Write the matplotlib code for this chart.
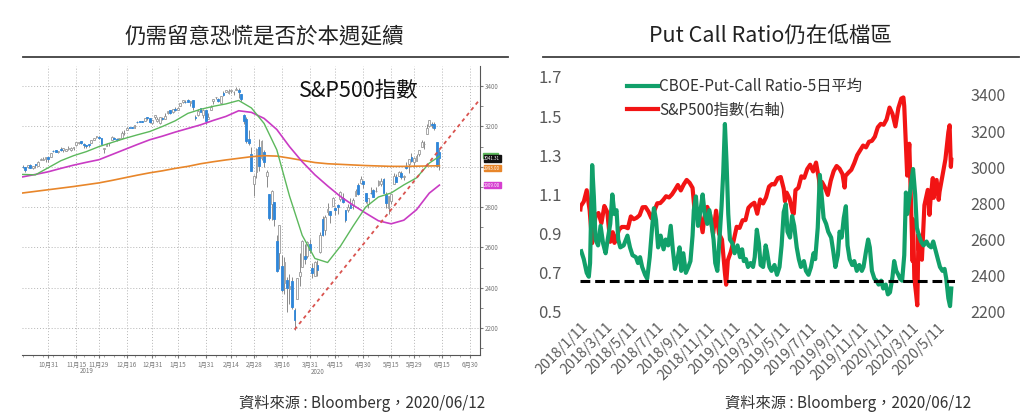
import numpy as np
import pandas as pd
import matplotlib
matplotlib.use("Agg")
import matplotlib.pyplot as plt
from matplotlib.lines import Line2D
from matplotlib.patches import Rectangle

plt.rcParams['font.family'] = ['Noto Sans CJK TC', 'DejaVu Sans']

# ---------------- left panel data: S&P500 daily candles ----------------
holidays = ['2019-11-28', '2019-12-25', '2020-01-01', '2020-01-20', '2020-02-17',
            '2020-04-10', '2020-05-25']
cal = pd.bdate_range('2019-10-17', '2020-06-30')
cal = cal[~cal.isin(pd.to_datetime(holidays))]

spx_open = [
    3000.8, 2996.8, 2996.5, 3010.7, 2994.0, 3014.8, 3003.3, 3032.1, 3035.4, 3039.7, 3046.9,
    3050.7, 3079.0, 3080.8, 3075.1, 3087.0, 3081.3, 3080.3, 3089.3, 3084.2, 3090.8, 3107.9, 3117.9, 3127.5, 3114.7, 3108.5, 3111.4, 3117.4, 3134.9, 3145.5, 3147.2,
    3143.9, 3087.4, 3103.5, 3119.2, 3134.6, 3141.9, 3135.4, 3135.8, 3141.2, 3166.7, 3183.6, 3195.4, 3195.2, 3192.3, 3223.3, 3226.1, 3225.4, 3227.2, 3247.2, 3240.1, 3215.2,
    3244.7, 3226.4, 3217.6, 3241.9, 3238.6, 3266.0, 3281.0, 3271.1, 3285.4, 3282.3, 3303.0, 3323.7, 3321.0, 3330.0, 3315.8, 3333.1, 3247.2, 3255.4, 3289.5, 3256.5, 3282.3,
    3235.7, 3280.6, 3324.9, 3344.9, 3335.5, 3318.3, 3365.9, 3370.5, 3365.9, 3378.1, 3369.0, 3380.4, 3380.5, 3360.5, 3257.6, 3238.9, 3139.9, 3062.5, 2916.9,
    2974.3, 3096.5, 3045.8, 3075.7, 2954.2, 2863.9, 2813.5, 2825.6, 2630.9, 2570.0, 2508.6, 2425.7, 2436.5, 2393.5, 2431.9, 2290.7, 2344.4, 2457.8, 2501.3, 2555.9, 2559.0, 2614.7,
    2498.1, 2458.5, 2514.9, 2578.3, 2738.7, 2685.0, 2777.0, 2782.5, 2805.1, 2795.6, 2812.6, 2842.4, 2845.6, 2784.8, 2787.9, 2810.4, 2812.6, 2854.7, 2910.0, 2918.5, 2930.9,
    2869.1, 2815.0, 2868.9, 2883.1, 2878.3, 2908.8, 2915.5, 2939.5, 2865.9, 2794.5, 2830.0, 2913.9, 2948.6, 2953.6, 2970.0, 2948.1, 3004.1, 3015.7, 3046.6, 3025.2,
    3031.0, 3064.8, 3098.9, 3111.6, 3163.8, 3199.9, 3213.3, 3213.4, 3123.5, 3071.0]
spx_high = [
    3008.3, 3000.0, 3007.3, 3014.6, 3004.8, 3016.1, 3027.4, 3044.1, 3047.9, 3050.1, 3046.9,
    3066.9, 3085.2, 3083.9, 3078.3, 3097.8, 3093.1, 3088.3, 3102.6, 3098.1, 3098.2, 3120.5, 3124.2, 3127.6, 3119.0, 3110.1, 3112.9, 3133.8, 3142.7, 3154.3, 3150.3,
    3144.3, 3095.0, 3119.4, 3119.4, 3150.6, 3148.9, 3142.1, 3144.0, 3176.3, 3182.7, 3197.7, 3198.2, 3198.5, 3205.5, 3225.6, 3227.8, 3226.4, 3240.1, 3247.9, 3240.9, 3231.7,
    3258.1, 3246.2, 3246.8, 3244.9, 3267.1, 3275.6, 3283.0, 3288.1, 3294.2, 3298.7, 3317.1, 3329.9, 3329.8, 3337.8, 3326.9, 3333.2, 3258.8, 3285.8, 3293.5, 3285.9, 3282.3,
    3268.4, 3306.9, 3337.6, 3348.0, 3341.4, 3352.3, 3375.6, 3381.5, 3385.1, 3380.7, 3375.0, 3393.5, 3389.2, 3360.8, 3259.8, 3247.0, 3182.5, 3097.1, 2959.7,
    3091.0, 3136.7, 3131.0, 3083.0, 2985.9, 2863.9, 2882.6, 2825.6, 2661.0, 2711.3, 2563.0, 2553.9, 2453.6, 2467.0, 2453.0, 2300.7, 2449.7, 2571.4, 2637.0, 2615.9, 2631.8, 2641.4,
    2522.8, 2533.2, 2538.2, 2676.9, 2756.9, 2760.8, 2818.6, 2782.5, 2851.9, 2801.9, 2815.1, 2879.2, 2869.0, 2785.5, 2815.1, 2844.9, 2842.7, 2887.7, 2921.2, 2954.9, 2930.9,
    2869.1, 2844.2, 2898.2, 2891.1, 2901.9, 2932.2, 2944.3, 2945.8, 2874.1, 2852.8, 2865.0, 2968.1, 2964.2, 2980.3, 2978.5, 2956.8, 3021.7, 3036.3, 3068.7, 3049.2,
    3062.2, 3081.1, 3130.9, 3128.9, 3211.7, 3233.1, 3222.7, 3223.3, 3123.5, 3088.4]
spx_low = [
    2991.8, 2976.3, 2995.4, 2995.0, 2991.2, 2996.0, 3001.9, 3032.1, 3034.8, 3025.9, 3023.2,
    3050.7, 3074.9, 3072.2, 3065.9, 3080.2, 3073.6, 3075.8, 3084.7, 3078.8, 3083.3, 3104.6, 3112.1, 3113.5, 3091.4, 3094.6, 3099.3, 3117.4, 3131.0, 3143.4, 3139.3,
    3110.8, 3070.3, 3102.5, 3103.8, 3134.6, 3135.5, 3126.1, 3133.2, 3138.5, 3156.5, 3183.6, 3191.0, 3191.1, 3192.3, 3216.0, 3222.3, 3220.5, 3227.2, 3234.4, 3216.6, 3212.0,
    3235.5, 3222.3, 3214.6, 3232.4, 3236.7, 3263.7, 3260.9, 3268.4, 3277.2, 3280.7, 3303.0, 3318.9, 3316.6, 3320.0, 3301.9, 3281.5, 3234.5, 3253.2, 3271.9, 3242.8, 3214.7,
    3235.7, 3280.6, 3313.8, 3334.4, 3322.1, 3317.8, 3352.7, 3369.7, 3360.5, 3366.2, 3355.6, 3378.8, 3341.0, 3328.5, 3214.7, 3118.8, 3109.0, 2977.4, 2855.8,
    2945.2, 2976.6, 3034.4, 2999.8, 2901.5, 2734.4, 2734.0, 2707.2, 2478.9, 2492.4, 2380.9, 2367.0, 2280.5, 2319.8, 2295.6, 2191.9, 2344.4, 2407.5, 2500.7, 2520.0, 2545.3, 2571.2,
    2447.5, 2455.8, 2460.0, 2574.6, 2657.7, 2663.3, 2762.4, 2721.2, 2805.1, 2761.5, 2765.0, 2830.9, 2820.4, 2727.1, 2776.0, 2794.3, 2791.8, 2852.9, 2860.7, 2912.2, 2892.5,
    2821.6, 2797.9, 2863.6, 2847.7, 2876.5, 2902.9, 2903.4, 2869.6, 2793.2, 2766.6, 2816.8, 2913.9, 2922.4, 2953.6, 2938.6, 2933.6, 2988.2, 2969.8, 3023.4, 2998.6,
    3031.0, 3051.6, 3098.9, 3090.4, 3163.8, 3196.0, 3193.1, 3181.5, 2999.5, 2984.5]
spx_close = [
    2997.95, 2986.20, 3006.72, 2995.99, 3004.52, 3010.29, 3022.55, 3039.42, 3036.89, 3046.77, 3037.56,
    3066.91, 3078.27, 3074.62, 3076.78, 3085.18, 3093.08, 3087.01, 3091.84, 3094.04, 3096.63, 3120.46, 3122.03, 3120.18, 3108.46, 3103.54, 3110.29, 3133.64, 3140.52, 3153.63, 3140.98,
    3113.87, 3093.20, 3112.76, 3117.43, 3145.91, 3135.96, 3132.52, 3141.63, 3168.57, 3168.80, 3191.45, 3192.52, 3191.14, 3205.37, 3221.22, 3224.01, 3223.38, 3239.91, 3240.02, 3221.29, 3230.78,
    3257.85, 3234.85, 3246.28, 3237.18, 3253.05, 3274.70, 3265.35, 3288.13, 3283.15, 3289.29, 3316.81, 3329.62, 3320.79, 3321.75, 3325.54, 3295.47, 3243.63, 3276.24, 3273.40, 3283.66, 3225.52,
    3248.92, 3297.59, 3334.69, 3345.78, 3327.71, 3352.09, 3357.75, 3379.45, 3373.94, 3380.16, 3370.29, 3386.15, 3373.23, 3337.75, 3225.89, 3128.21, 3116.39, 2978.76, 2954.22,
    3090.23, 3003.37, 3130.12, 3023.94, 2972.37, 2746.56, 2882.23, 2741.38, 2480.64, 2711.02, 2386.13, 2529.19, 2398.10, 2409.39, 2304.92, 2237.40, 2447.33, 2475.56, 2630.07, 2541.47, 2626.65, 2584.59,
    2470.50, 2526.90, 2488.65, 2663.68, 2659.41, 2749.98, 2789.82, 2761.63, 2846.06, 2783.36, 2799.55, 2874.56, 2823.16, 2736.56, 2799.31, 2797.80, 2836.74, 2878.48, 2863.39, 2939.51, 2912.43,
    2830.71, 2842.74, 2868.44, 2848.42, 2881.19, 2929.80, 2930.32, 2870.12, 2820.00, 2852.50, 2863.70, 2953.91, 2922.94, 2971.61, 2948.51, 2955.45, 2991.77, 3036.13, 3029.73, 3044.31,
    3055.73, 3080.82, 3122.87, 3112.35, 3193.93, 3232.39, 3207.18, 3190.14, 3002.10, 3041.31]

# moving averages (weekly samples)
ma_dates = ['2019-10-17', '2019-10-24', '2019-10-31', '2019-11-07', '2019-11-14', '2019-11-21',
            '2019-11-29', '2019-12-06', '2019-12-13', '2019-12-20', '2019-12-30', '2020-01-07',
            '2020-01-14', '2020-01-22', '2020-01-29', '2020-02-05', '2020-02-12', '2020-02-20',
            '2020-02-27', '2020-03-05', '2020-03-12', '2020-03-19', '2020-03-26', '2020-04-02',
            '2020-04-09', '2020-04-17', '2020-04-24', '2020-05-01', '2020-05-08', '2020-05-15',
            '2020-05-22', '2020-06-01', '2020-06-08', '2020-06-12']
ma_short = [2962, 2960, 2995, 3030, 3055, 3075, 3100, 3120, 3140, 3158, 3175, 3200,
            3228, 3265, 3285, 3300, 3312, 3329, 3292, 3215, 3084, 2855, 2660, 2545,
            2525, 2605, 2705, 2800, 2850, 2870, 2910, 2945, 3018, 3052]
ma_mid = [2950, 2962, 2975, 2992, 3008, 3022, 3035, 3060, 3085, 3110, 3134, 3152,
          3172, 3190, 3208, 3230, 3250, 3278, 3270, 3240, 3185, 3100, 3025, 2960,
          2905, 2853, 2810, 2770, 2732, 2717, 2735, 2787, 2869, 2909]
ma_long = [2870, 2878, 2886, 2894, 2902, 2911, 2920, 2932, 2945, 2958, 2970, 2980,
           2992, 3002, 3015, 3025, 3034, 3042, 3050, 3055, 3053, 3043, 3032, 3021,
           3015, 3012, 3009, 3006, 3004, 3002, 3002, 3003, 3004, 3005]

trend_dates = ['2020-03-23', '2020-06-12']
trend_vals = [2192, 3085]

left_tick_dates = ['2019-10-31', '2019-11-15', '2019-11-29', '2019-12-16', '2019-12-31',
                   '2020-01-15', '2020-01-31', '2020-02-14', '2020-02-28', '2020-03-16',
                   '2020-03-31', '2020-04-15', '2020-04-30', '2020-05-15', '2020-05-29',
                   '2020-06-15', '2020-06-30']

# ---------------- right panel data ----------------
spx_w_dates = [
    '2018-01-11', '2018-01-12', '2018-01-19', '2018-01-26', '2018-02-02', '2018-02-08', '2018-02-16',
    '2018-02-23', '2018-03-02', '2018-03-09', '2018-03-16', '2018-03-23', '2018-03-29', '2018-04-02',
    '2018-04-06', '2018-04-13', '2018-04-20', '2018-04-27', '2018-05-04', '2018-05-11', '2018-05-18',
    '2018-05-25', '2018-06-01', '2018-06-08', '2018-06-15', '2018-06-22', '2018-06-29', '2018-07-06',
    '2018-07-13', '2018-07-20', '2018-07-27', '2018-08-03', '2018-08-10', '2018-08-17', '2018-08-24',
    '2018-08-31', '2018-09-07', '2018-09-14', '2018-09-21', '2018-09-28', '2018-10-05', '2018-10-11',
    '2018-10-19', '2018-10-29', '2018-11-02', '2018-11-09', '2018-11-16', '2018-11-23', '2018-11-30',
    '2018-12-07', '2018-12-14', '2018-12-21', '2018-12-24', '2018-12-28', '2019-01-04', '2019-01-11',
    '2019-01-18', '2019-01-25', '2019-02-01', '2019-02-08', '2019-02-15', '2019-02-22', '2019-03-01',
    '2019-03-08', '2019-03-15', '2019-03-22', '2019-03-29', '2019-04-05', '2019-04-12', '2019-04-18',
    '2019-04-26', '2019-05-03', '2019-05-10', '2019-05-13', '2019-05-17', '2019-05-24', '2019-05-31',
    '2019-06-03', '2019-06-07', '2019-06-14', '2019-06-21', '2019-06-28', '2019-07-05', '2019-07-12',
    '2019-07-19', '2019-07-26', '2019-08-02', '2019-08-05', '2019-08-09', '2019-08-16', '2019-08-23',
    '2019-08-30', '2019-09-06', '2019-09-13', '2019-09-20', '2019-09-27', '2019-10-02', '2019-10-04',
    '2019-10-11', '2019-10-18', '2019-10-25', '2019-11-01', '2019-11-08', '2019-11-15', '2019-11-22',
    '2019-11-29', '2019-12-06', '2019-12-13', '2019-12-20', '2019-12-27', '2020-01-03', '2020-01-10',
    '2020-01-17', '2020-01-24', '2020-01-31', '2020-02-07', '2020-02-14', '2020-02-19', '2020-02-21',
    '2020-02-28', '2020-03-04', '2020-03-06', '2020-03-12', '2020-03-13', '2020-03-16', '2020-03-20',
    '2020-03-23', '2020-03-26', '2020-03-27', '2020-04-03', '2020-04-09', '2020-04-17', '2020-04-21',
    '2020-04-24', '2020-04-29', '2020-05-01', '2020-05-08', '2020-05-13', '2020-05-15', '2020-05-22',
    '2020-05-29', '2020-06-05', '2020-06-08', '2020-06-11', '2020-06-12']
spx_w = [
    2767, 2786, 2810, 2873, 2762, 2581, 2732, 2747, 2691, 2786, 2752, 2588, 2641, 2582,
    2604, 2656, 2670, 2670, 2663, 2728, 2713, 2721, 2735, 2779, 2780, 2755, 2718, 2760,
    2801, 2802, 2819, 2840, 2833, 2850, 2875, 2902, 2872, 2905, 2930, 2914, 2886, 2729,
    2768, 2641, 2723, 2781, 2736, 2633, 2760, 2633, 2600, 2417, 2351, 2486, 2532, 2596,
    2671, 2665, 2707, 2708, 2776, 2793, 2804, 2743, 2822, 2800, 2834, 2893, 2907, 2905,
    2940, 2946, 2881, 2812, 2860, 2826, 2752, 2744, 2873, 2887, 2950, 2942, 2990, 3014,
    2977, 3026, 2932, 2844, 2919, 2889, 2847, 2926, 2979, 3007, 2992, 2962, 2888, 2952,
    2970, 2986, 3023, 3067, 3093, 3120, 3110, 3141, 3146, 3169, 3221, 3240, 3235, 3265,
    3330, 3295, 3226, 3328, 3380, 3386, 3338, 2954, 3130, 2972, 2481, 2711, 2386, 2305,
    2237, 2630, 2541, 2489, 2790, 2875, 2737, 2837, 2940, 2831, 2930, 2820, 2864, 2955,
    3044, 3194, 3232, 3002, 3041]

pcr_dates = [
    '2018-01-13', '2018-01-19', '2018-01-26', '2018-01-31', '2018-02-03', '2018-02-08', '2018-02-12',
    '2018-02-16', '2018-02-22', '2018-02-28', '2018-03-06', '2018-03-12', '2018-03-17', '2018-03-23',
    '2018-03-28', '2018-04-02', '2018-04-07', '2018-04-11', '2018-04-16', '2018-04-24', '2018-05-03',
    '2018-05-09', '2018-05-15', '2018-05-23', '2018-05-28', '2018-06-02', '2018-06-07', '2018-06-14',
    '2018-06-19', '2018-06-25', '2018-07-01', '2018-07-05', '2018-07-10', '2018-07-15', '2018-07-21',
    '2018-07-28', '2018-08-02', '2018-08-08', '2018-08-14', '2018-08-19', '2018-08-24', '2018-08-30',
    '2018-09-04', '2018-09-08', '2018-09-13', '2018-09-19', '2018-09-25', '2018-09-30', '2018-10-05',
    '2018-10-08', '2018-10-13', '2018-10-18', '2018-10-24', '2018-10-29', '2018-11-03', '2018-11-09',
    '2018-11-14', '2018-11-19', '2018-11-24', '2018-11-28', '2018-12-03', '2018-12-08', '2018-12-13',
    '2018-12-17', '2018-12-21', '2018-12-25', '2018-12-29', '2019-01-02', '2019-01-08', '2019-01-13',
    '2019-01-20', '2019-01-26', '2019-01-31', '2019-02-04', '2019-02-09', '2019-02-14', '2019-02-20',
    '2019-02-26', '2019-03-02', '2019-03-07', '2019-03-12', '2019-03-16', '2019-03-22', '2019-03-28',
    '2019-03-31', '2019-04-06', '2019-04-11', '2019-04-18', '2019-04-24', '2019-04-30', '2019-05-05',
    '2019-05-10', '2019-05-15', '2019-05-19', '2019-05-25', '2019-05-30', '2019-06-04', '2019-06-10',
    '2019-06-15', '2019-06-20', '2019-06-27', '2019-07-02', '2019-07-08', '2019-07-14', '2019-07-20',
    '2019-07-24', '2019-07-30', '2019-08-04', '2019-08-08', '2019-08-13', '2019-08-19', '2019-08-24',
    '2019-08-31', '2019-09-05', '2019-09-10', '2019-09-16', '2019-09-20', '2019-09-25', '2019-09-30',
    '2019-10-05', '2019-10-09', '2019-10-14', '2019-10-20', '2019-10-25', '2019-10-31', '2019-11-06',
    '2019-11-12', '2019-11-16', '2019-11-22', '2019-11-27', '2019-12-01', '2019-12-06', '2019-12-12',
    '2019-12-17', '2019-12-22', '2019-12-28', '2020-01-02', '2020-01-08', '2020-01-13', '2020-01-18',
    '2020-01-24', '2020-01-28', '2020-02-02', '2020-02-07', '2020-02-11', '2020-02-16', '2020-02-21',
    '2020-02-25', '2020-02-28', '2020-03-03', '2020-03-08', '2020-03-13', '2020-03-18', '2020-03-22',
    '2020-03-27', '2020-04-01', '2020-04-07', '2020-04-14', '2020-04-19', '2020-04-25', '2020-04-30',
    '2020-05-06', '2020-05-11', '2020-05-16', '2020-05-22', '2020-05-27', '2020-05-31', '2020-06-05',
    '2020-06-09', '2020-06-12']
pcr = [
    0.81, 0.77, 0.70, 0.68, 0.75, 1.25, 1.09, 0.87, 0.84, 0.94, 0.85, 0.80, 0.87, 0.95,
    1.10, 1.00, 1.02, 0.87, 0.83, 0.84, 0.89, 0.83, 0.79, 0.78, 0.75, 0.78, 0.73, 0.69,
    0.67, 0.78, 0.94, 1.03, 0.97, 0.83, 0.89, 0.82, 0.87, 0.84, 0.94, 0.82, 0.72, 0.77,
    0.83, 0.71, 0.80, 0.70, 0.73, 0.76, 0.89, 1.02, 1.09, 0.94, 1.02, 1.10, 1.00, 0.95,
    1.02, 0.95, 0.87, 0.75, 0.71, 0.87, 1.04, 1.21, 1.46, 1.26, 1.00, 0.87, 0.85, 0.80,
    0.84, 0.78, 0.82, 0.76, 0.77, 0.73, 0.75, 0.73, 0.78, 0.92, 0.85, 0.74, 0.73, 0.84,
    0.81, 0.73, 0.71, 0.74, 0.69, 0.73, 0.84, 1.01, 1.05, 0.91, 0.88, 0.99, 0.94, 0.83,
    0.77, 0.73, 0.76, 0.71, 0.69, 0.73, 0.80, 0.77, 0.93, 1.20, 1.10, 0.98, 0.95, 0.91,
    0.88, 0.81, 0.73, 0.79, 0.91, 0.88, 0.98, 1.04, 0.84, 0.77, 0.74, 0.76, 0.71, 0.74,
    0.71, 0.73, 0.81, 0.87, 0.83, 0.71, 0.67, 0.66, 0.64, 0.66, 0.62, 0.64, 0.59, 0.60,
    0.68, 0.76, 0.71, 0.69, 0.67, 0.66, 0.79, 1.11, 1.00, 1.06, 1.15, 1.23, 1.10, 0.93,
    0.89, 0.86, 0.84, 0.86, 0.84, 0.83, 0.86, 0.81, 0.77, 0.73, 0.71, 0.72, 0.67, 0.57,
    0.53, 0.62]
pcr_floor = 0.66

right_tick_dates = ['2018-01-11', '2018-03-11', '2018-05-11', '2018-07-11', '2018-09-11',
                    '2018-11-11', '2019-01-11', '2019-03-11', '2019-05-11', '2019-07-11',
                    '2019-09-11', '2019-11-11', '2020-01-11', '2020-03-11', '2020-05-11']

# ---------------- figure ----------------
fig = plt.figure(figsize=(10.24, 4.18), dpi=100)
fig.patch.set_facecolor('white')

title_c = '#222222'
fig.text(0.258, 0.914, '仍需留意恐慌是否於本週延續', ha='center', va='center',
         fontsize=15.5, color=title_c)
fig.text(0.752, 0.914, 'Put Call Ratio仍在低檔區', ha='center', va='center',
         fontsize=15.5, color=title_c)
fig.add_artist(Line2D([0.022, 0.496], [0.864, 0.864], color='#404040', lw=1.3))
fig.add_artist(Line2D([0.530, 0.995], [0.864, 0.864], color='#404040', lw=1.3))
src = '資料來源 : Bloomberg，2020/06/12'
fig.text(0.474, 0.034, src, ha='right', va='center', fontsize=11, color='#333333')
fig.text(0.948, 0.034, src, ha='right', va='center', fontsize=11, color='#333333')

# ---------------- left: candlestick ----------------
axl = fig.add_axes([0.0212, 0.1507, 0.4476, 0.6914])
o = np.array(spx_open)
h = np.array(spx_high)
lo = np.array(spx_low)
c = np.array(spx_close)
x = np.arange(len(c))
up = c >= o
grid_kw = dict(color='#b5b5b5', lw=0.7, ls=(0, (1, 2)), zorder=0)
for v in range(2200, 3401, 200):
    axl.axhline(v, **grid_kw)
tick_pos = cal.get_indexer(pd.to_datetime(left_tick_dates))
for p in tick_pos:
    axl.axvline(p, **grid_kw)

axl.vlines(x, lo, h, color='#8a8a8a', lw=0.7, zorder=2)
body_lo = np.minimum(o, c)
body_h = np.maximum(np.abs(c - o), 2)
axl.bar(x[up], body_h[up], bottom=body_lo[up], width=0.7, color='white',
        edgecolor='#9a9a9a', lw=0.6, zorder=3)
axl.bar(x[~up], body_h[~up], bottom=body_lo[~up], width=0.7, color='#2f86d8',
        edgecolor='#2f86d8', lw=0.6, zorder=3)

ma_x = cal.get_indexer(pd.to_datetime(ma_dates))
axl.plot(ma_x, ma_long, color='#e8862a', lw=1.2, zorder=4)
axl.plot(ma_x, ma_mid, color='#c93bc4', lw=1.2, zorder=4)
axl.plot(ma_x, ma_short, color='#5cb85c', lw=1.0, zorder=4)

# trend line from the March low
tx = cal.get_indexer(pd.to_datetime(trend_dates))
slope = (trend_vals[1] - trend_vals[0]) / (tx[1] - tx[0])
x_end = 180
axl.plot([tx[0], x_end], [trend_vals[0], trend_vals[0] + slope * (x_end - tx[0])],
         color='#d9534f', lw=1.3, ls=(0, (2, 2)), zorder=5)

axl.set_xlim(-0.4, 180)
axl.set_ylim(2066, 3500)
for s in ['top', 'left']:
    axl.spines[s].set_visible(False)
for s in ['right', 'bottom']:
    axl.spines[s].set_color('#555555')
    axl.spines[s].set_linewidth(0.8)
axl.yaxis.tick_right()
ylev = list(range(2200, 3401, 200))
axl.set_yticks(ylev)
# the 3000 label sits under the last-value tags
axl.set_yticklabels(['' if v == 3000 else str(v) for v in ylev])
axl.set_yticks(range(2100, 3500, 100), minor=True)
axl.tick_params(axis='y', which='both', labelsize=4.5, colors='#777777', length=2, pad=1.5)
axl.set_xticks(tick_pos)
axl.set_xticklabels([f'{d.month}月{d.day}' for d in pd.to_datetime(left_tick_dates)])
axl.tick_params(axis='x', labelsize=4.5, colors='#777777', length=2, pad=2)
axl.set_xticks(np.arange(0, 180, 4), minor=True)
axl.tick_params(axis='x', which='minor', length=1.5, colors='#999999')
axl.text(cal.get_loc(pd.Timestamp('2019-11-21')), -0.055, '2019',
         transform=axl.get_xaxis_transform(), ha='center', va='center',
         fontsize=4.5, color='#777777')
axl.text(tick_pos[10] + 3, -0.058, '2020', transform=axl.get_xaxis_transform(),
         ha='center', va='center', fontsize=4.5, color='#777777')
axl.text(0.736, 0.915, 'S&P500指數', transform=axl.transAxes, ha='center', va='center',
         fontsize=15.5, color='#111111')

# last value tags on the right axis (the 20d tag sits mostly hidden behind the price tag)
axl.add_patch(Rectangle((1.006, ma_short[-1] - 8), 0.034, 26, transform=axl.get_yaxis_transform(),
                        clip_on=False, fc='#5cb85c', ec='#5cb85c', zorder=6))
tags = [(ma_long[-1] - 12, '#e8862a'), (spx_close[-1], '#111111'), (ma_mid[-1], '#d63fd0')]
for val, fc in tags:
    axl.annotate(f'{val:.2f}', xy=(1, val), xycoords=('axes fraction', 'data'),
                 xytext=(3, 0), textcoords='offset points', ha='left', va='center',
                 fontsize=3.2, color='white', zorder=7,
                 bbox=dict(boxstyle='square,pad=0.15', fc=fc, ec=fc))

# ---------------- right: put/call ratio ----------------
axr = fig.add_axes([0.5664, 0.2536, 0.3667, 0.5622])
axr2 = axr.twinx()
pdates = pd.to_datetime(pcr_dates)
sdates = pd.to_datetime(spx_w_dates)
l1, = axr.plot(pdates, pcr, color='#11a06a', lw=3.0, solid_joinstyle='round', zorder=3)
axr.axhline(pcr_floor, color='black', lw=2.2, ls=(0, (3.2, 1.6)), zorder=4)
l2, = axr2.plot(sdates, spx_w, color='#f21414', lw=3.0, solid_joinstyle='round', zorder=3)

axr.set_xlim(pd.Timestamp('2018-01-10'), pd.Timestamp('2020-06-22'))
axr.set_ylim(0.5, 1.7)
axr2.set_ylim(2205, 3499)
axr.set_yticks([0.5, 0.7, 0.9, 1.1, 1.3, 1.5, 1.7])
axr.set_yticklabels(['0.5', '0.7', '0.9', '1.1', '1.3', '1.5', '1.7'])
axr2.set_yticks(range(2200, 3401, 200))
for a in (axr, axr2):
    for s in a.spines.values():
        s.set_visible(False)
axr.tick_params(axis='y', length=0, labelsize=12, colors='#595959', pad=13)
axr2.tick_params(axis='y', length=0, labelsize=11.5, colors='#595959', pad=11)
rt = pd.to_datetime(right_tick_dates)
axr.set_xticks(rt)
axr.set_xticklabels([f'{d.year}/{d.month}/{d.day}' for d in rt], rotation=45,
                    ha='right', rotation_mode='anchor')
axr.tick_params(axis='x', length=0, labelsize=10.3, colors='#595959', pad=6)
axr.set_zorder(axr2.get_zorder() + 1)
axr.patch.set_visible(False)
axr2.set_zorder(0)

leg = axr.legend([l1, l2], ['CBOE-Put-Call Ratio-5日平均', 'S&P500指數(右軸)'],
                 loc='upper left', bbox_to_anchor=(0.11, 1.022), frameon=False,
                 fontsize=11, handlelength=2.0, handletextpad=0.1, labelspacing=0.45,
                 borderaxespad=0)
for t in leg.get_texts():
    t.set_color('#333333')

fig.savefig('out.png', dpi=100, facecolor='white')
